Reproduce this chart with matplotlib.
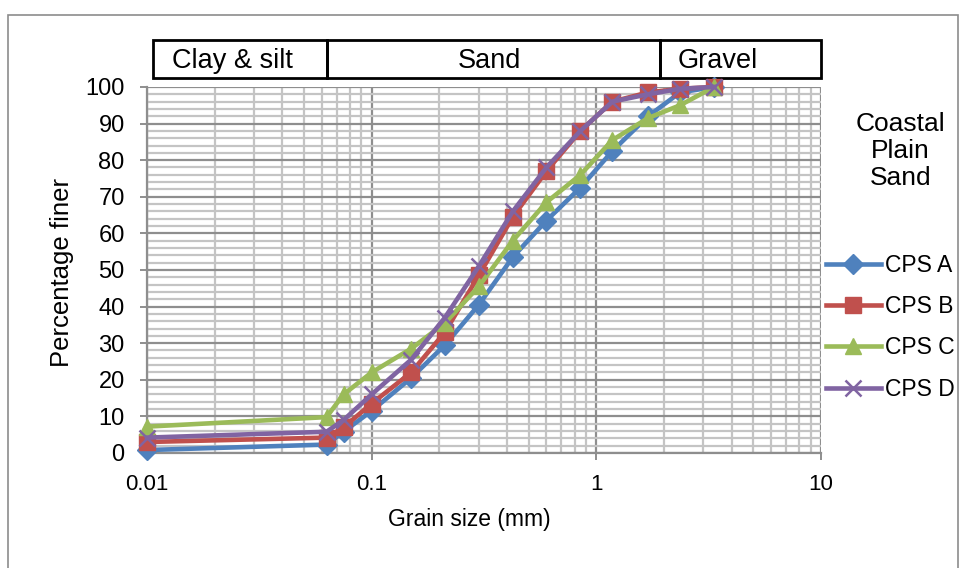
import matplotlib
matplotlib.use("Agg")
import matplotlib.pyplot as plt
import matplotlib.transforms as mtransforms
from matplotlib.patches import Rectangle
from matplotlib.ticker import LogLocator, MultipleLocator, FuncFormatter

plt.rcParams['font.family'] = ['Liberation Sans', 'DejaVu Sans']

# sieve sizes (mm) and percent finer
grain_size = [0.01, 0.063, 0.075, 0.1, 0.15, 0.212, 0.3, 0.425, 0.6, 0.85, 1.18, 1.7, 2.36, 3.35]
cps_a = [0.8, 2.3, 5.8, 11.5, 20.5, 29.5, 40.5, 53.5, 63.5, 72.5, 82.5, 92, 98.5, 100]
cps_b = [3.0, 4.2, 7, 13.5, 22, 33, 48.5, 64.5, 77, 88, 96, 98.5, 99.5, 100]
cps_c = [7.2, 9.8, 16, 22, 28.5, 35.5, 45.5, 58, 68.5, 76, 85.5, 91.5, 95, 100]
cps_d = [4.2, 5.8, 9, 16, 25.5, 37, 51, 66, 78, 88, 96, 98, 99.5, 100]
series_names = ['CPS A', 'CPS B', 'CPS C', 'CPS D']

# soil class bands along the top
band_names = ['Clay & silt', 'Sand', 'Gravel']
band_edges = [0.0106, 0.063, 1.92, 10]

fig = plt.figure(figsize=(9.65, 5.68), dpi=100)
ax = fig.add_axes([0.1523, 0.2025, 0.6984, 0.6444])

# chart area border
fig.patches.append(Rectangle((8 / 965, -0.01), 950 / 965, 1 - 15 / 568 + 0.01,
                             transform=fig.transFigure, fill=False,
                             edgecolor='#8c8c8c', linewidth=1.2))

styles = [
    ('#4F81BD', 'D', 10, 1.0),
    ('#C0504D', 's', 11, 1.0),
    ('#9BBB59', '^', 12, 1.0),
    ('#8064A2', 'x', 11, 1.8),
]
for vals, name, (col, mk, ms, mew) in zip([cps_a, cps_b, cps_c, cps_d], series_names, styles):
    ax.plot(grain_size, vals, color=col, linewidth=3.3, marker=mk, markersize=ms,
            markerfacecolor=col, markeredgecolor=col, markeredgewidth=mew,
            label=name, zorder=3, clip_on=False)

ax.set_xscale('log')
ax.set_xlim(0.01, 10)
ax.set_ylim(0, 100)
ax.yaxis.set_major_locator(MultipleLocator(10))
ax.yaxis.set_minor_locator(MultipleLocator(2))
ax.xaxis.set_major_locator(LogLocator(base=10, numticks=10))
ax.xaxis.set_minor_locator(LogLocator(base=10, subs=range(2, 10), numticks=20))
ax.xaxis.set_major_formatter(FuncFormatter(lambda v, p: '%g' % v))
ax.xaxis.set_minor_formatter(FuncFormatter(lambda v, p: ''))

ax.grid(which='minor', color='#c4c4c4', linewidth=1.6, zorder=0)
ax.grid(which='major', color='#8e8e8e', linewidth=1.6, zorder=0)
ax.set_axisbelow(True)

for s in ['top', 'right']:
    ax.spines[s].set_visible(False)
for s in ['left', 'bottom']:
    ax.spines[s].set_color('#8e8e8e')
    ax.spines[s].set_linewidth(1.6)

ax.tick_params(axis='both', which='major', length=5, width=1.4, color='#8e8e8e')
ax.tick_params(axis='y', which='major', labelsize=17, pad=11)
ax.tick_params(axis='x', which='major', labelsize=16, pad=10)
ax.tick_params(axis='both', which='minor', length=0)

ax.set_xlabel('Grain size (mm)', fontsize=16.5)
ax.set_ylabel('Percentage finer', fontsize=18.5)
ax.xaxis.set_label_coords(0.479, -0.183)
ax.xaxis.label.set_va('center')
ax.yaxis.set_label_coords(-0.126, 0.494)
ax.yaxis.label.set_va('center')

# band boxes above the plot (labels sit where the original put them)
trans = mtransforms.blended_transform_factory(ax.transData, ax.transAxes)
label_x = [0.0241, 0.336, 3.47]
y0, y1 = 1.0246, 1.128
for name, lo, hi, xm in zip(band_names, band_edges[:-1], band_edges[1:], label_x):
    ax.add_patch(Rectangle((lo, y0), hi - lo, y1 - y0, transform=trans, fill=False,
                           edgecolor='black', linewidth=2, clip_on=False))
    ax.text(xm, (y0 + y1) / 2 - 0.005, name, transform=trans, ha='center', va='center',
            fontsize=19.5)

fig.text(0.933, 0.734, 'Coastal\nPlain\nSand', ha='center', va='center',
         fontsize=19, linespacing=1.15)

leg = ax.legend(loc='center left', bbox_to_anchor=(1.0074, 0.344), frameon=False,
                fontsize=16.5, handlelength=2.4, handletextpad=0.2, labelspacing=0.8,
                borderaxespad=0, borderpad=0)

fig.savefig('out.png', dpi=100)
